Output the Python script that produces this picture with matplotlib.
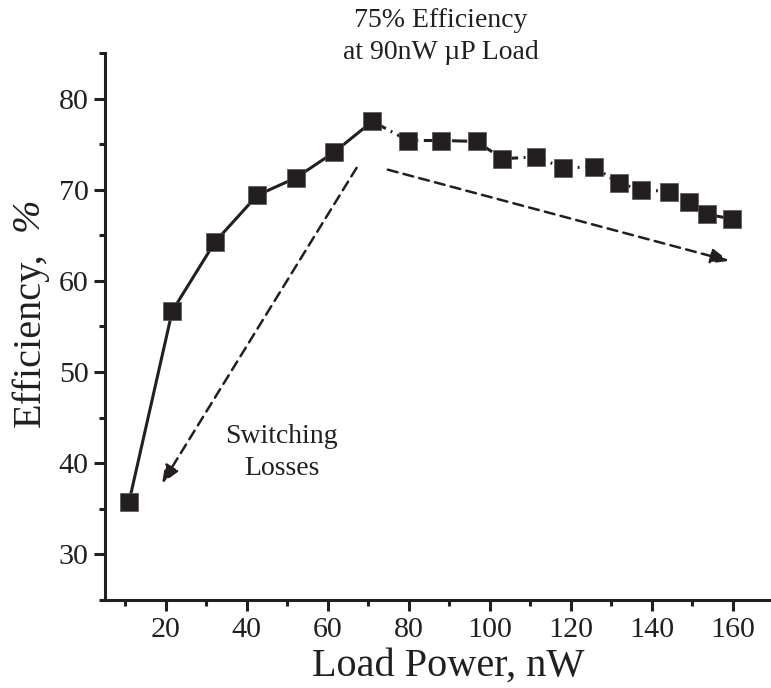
import matplotlib.pyplot as plt
from matplotlib.ticker import MultipleLocator

load_power = [10.9, 21.6, 32.2, 42.6, 52.1, 61.5, 71.0,
              79.8, 88.0, 96.7, 103.1, 111.4, 118.1, 125.8, 131.8, 137.4,
              144.3, 149.1, 153.6, 159.8]
efficiency = [35.7, 56.7, 64.3, 69.4, 71.3, 74.1, 77.5,
              75.4, 75.4, 75.3, 73.4, 73.6, 72.4, 72.5, 70.7, 70.0,
              69.8, 68.7, 67.3, 66.8]
n_solid = 7  # first points joined by a solid line, the rest dash-dot

ink = '#231f20'
plt.rcParams['font.family'] = ['Liberation Serif', 'DejaVu Serif']

fig = plt.figure(figsize=(7.71, 6.88), dpi=100)
ax = fig.add_axes([0.1362, 0.1279, 0.8670, 0.7951])

# solid part
ax.plot(load_power[:n_solid], efficiency[:n_solid], color=ink, lw=2.2,
        solid_capstyle='butt')
# dash-dot part
ax.plot(load_power[n_solid - 1:], efficiency[n_solid - 1:], color=ink, lw=2.2,
        linestyle=(0, (5, 1.8, 0.6, 1.8)))
ax.plot(load_power, efficiency, linestyle='none', marker='s', markersize=12.6,
        color=ink, markeredgecolor='#555555', markeredgewidth=0.5, zorder=3)

arrow_kw = dict(arrowstyle='-|>,head_length=0.6,head_width=0.25',
                mutation_scale=18, color=ink, lw=1.8, linestyle=(0, (4, 2.5)),
                shrinkA=0, shrinkB=0)
ax.annotate('', xy=(159.0, 62.2), xytext=(74.8, 72.2), arrowprops=arrow_kw)
ax.annotate('', xy=(19.1, 37.8), xytext=(67.1, 72.4), arrowprops=arrow_kw)

ax.text(48.6, 41.2, 'Switching\nLosses', ha='center', va='center',
        fontsize=20, color=ink, linespacing=1.4)
ax.text(87.9, 86.8, '75% Efficiency\nat 90nW µP Load', ha='center', va='center',
        fontsize=20, color=ink, clip_on=False, linespacing=1.4)

ax.set_xlim(5, 170)
ax.set_ylim(25, 85)
ax.xaxis.set_minor_locator(MultipleLocator(10))
ax.yaxis.set_major_locator(MultipleLocator(10))
ax.yaxis.set_minor_locator(MultipleLocator(5))
ax.set_xticks([20, 40, 60, 80, 100, 120, 140, 160])

for side in ['top', 'right']:
    ax.spines[side].set_visible(False)
for side in ['left', 'bottom']:
    ax.spines[side].set_linewidth(2.2)
    ax.spines[side].set_color(ink)

ax.tick_params(which='major', direction='out', length=7.9, width=2.2,
               colors=ink, labelsize=21.6, pad=4)
ax.tick_params(which='minor', direction='out', length=4.3, width=2.2, colors=ink)

fig.text(0.581, 0.018, 'Load Power, nW', ha='center', va='baseline',
         fontsize=29, color=ink)
# y label: upright words, italic percent sign
fig.text(0.039, 0.379, 'Efficiency,', ha='center', va='bottom',
         rotation=90, fontsize=29, color=ink)
fig.text(0.037, 0.664, '%', ha='center', va='bottom', rotation=90,
         fontsize=29, color=ink, style='italic')

fig.savefig('out.png', dpi=100)
